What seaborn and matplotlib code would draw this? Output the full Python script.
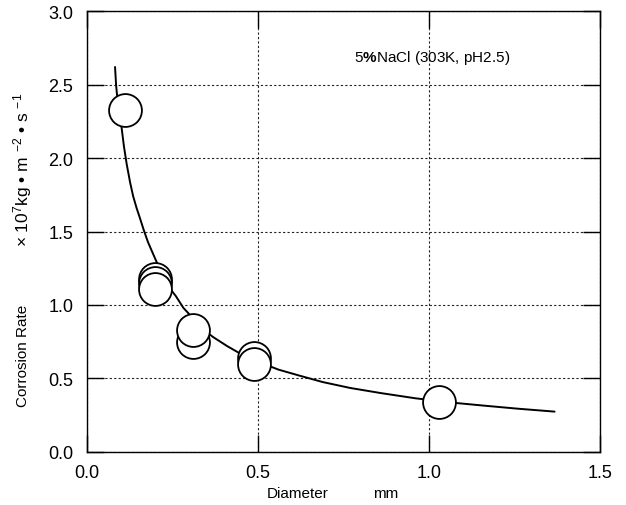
import matplotlib
matplotlib.use("Agg")
import matplotlib.pyplot as plt
import seaborn as sns
import pandas as pd

# Measured corrosion rates (x10^7 kg m^-2 s^-1) vs wire diameter (mm)
diameter = [0.11, 0.20, 0.20, 0.20, 0.31, 0.31, 0.49, 0.49, 1.03]
rate = [2.33, 1.18, 1.15, 1.11, 0.75, 0.83, 0.64, 0.60, 0.34]

# Trend curve through the measurements
curve_x = [0.082, 0.085, 0.089, 0.094, 0.101, 0.108, 0.116, 0.126, 0.135,
           0.145, 0.155, 0.166, 0.178, 0.191, 0.206, 0.222, 0.240, 0.260,
           0.282, 0.306, 0.335, 0.370, 0.410, 0.455, 0.505, 0.560, 0.620,
           0.690, 0.770, 0.860, 0.960, 1.060, 1.160, 1.260, 1.368]
curve_y = [2.62, 2.50, 2.40, 2.31, 2.21, 2.08, 1.96, 1.835, 1.74,
           1.66, 1.59, 1.51, 1.43, 1.36, 1.28, 1.20, 1.12, 1.06,
           0.98, 0.92, 0.84, 0.78, 0.72, 0.66, 0.61, 0.56, 0.52,
           0.475, 0.435, 0.400, 0.365, 0.337, 0.315, 0.294, 0.274]

x_ticks = [0.0, 0.5, 1.0, 1.5]
y_ticks = [0.0, 0.5, 1.0, 1.5, 2.0, 2.5, 3.0]

sns.set_theme(style="white")
plt.rcParams["font.family"] = ["Liberation Sans", "DejaVu Sans"]
plt.rcParams["mathtext.fontset"] = "custom"
plt.rcParams["mathtext.rm"] = "Liberation Sans"
plt.rcParams["mathtext.bf"] = "Liberation Sans:bold"
plt.rcParams["mathtext.it"] = "Liberation Sans:italic"

fig = plt.figure(figsize=(6.26, 5.06), dpi=100)
ax = fig.add_axes([0.139, 0.105, 0.819, 0.871])

points = pd.DataFrame({"diameter": diameter, "rate": rate})
trend = pd.DataFrame({"x": curve_x, "y": curve_y})

sns.lineplot(data=trend, x="x", y="y", sort=False, color="black",
             linewidth=1.4, ax=ax, zorder=3)
sns.scatterplot(data=points, x="diameter", y="rate", s=560,
                facecolor="white", edgecolor="black", linewidth=1.3,
                ax=ax, zorder=4)

ax.set_xlim(0, 1.5)
ax.set_ylim(0, 3.0)
ax.set_xticks(x_ticks)
ax.set_yticks(y_ticks)
ax.set_xticklabels([f"{v:.1f}" for v in x_ticks])
ax.set_yticklabels([f"{v:.1f}" for v in y_ticks])

ax.grid(True, color="#222222", linestyle=(0, (2, 2)), linewidth=0.8)
ax.set_axisbelow(True)
ax.tick_params(axis="both", which="major", direction="in", length=12,
               width=1, color="black", labelsize=13,
               top=True, right=True, bottom=True, left=True,
               labelcolor="black")
ax.tick_params(axis="y", pad=10)
ax.tick_params(axis="x", pad=9)
for side in ax.spines.values():
    side.set_color("black")
    side.set_linewidth(1.0)

ax.set_xlabel("")
ax.set_ylabel("")

# Axis titles
fig.text(298 / 626, 1 - 494 / 506, "Diameter", ha="center", va="center",
         fontsize=11, color="black")
fig.text(386 / 626, 1 - 494 / 506, "mm", ha="center", va="center",
         fontsize=11, color="black")
fig.text(0.036, 1 - 170 / 506,
         r"$\times$ 10$^7$kg • m $^{-2}$ • s $^{-1}$",
         rotation=90, ha="center", va="center", fontsize=12.5, color="black")
fig.text(0.036, 1 - 356 / 506, "Corrosion Rate", rotation=90, ha="center",
         va="center", fontsize=11, color="black")

ax.text(1.009, 2.69, r"5$\mathbf{\%}$NaCl (303K, pH2.5)", ha="center",
        va="center", fontsize=11, color="black", zorder=5)

fig.savefig("out.png", dpi=100)
